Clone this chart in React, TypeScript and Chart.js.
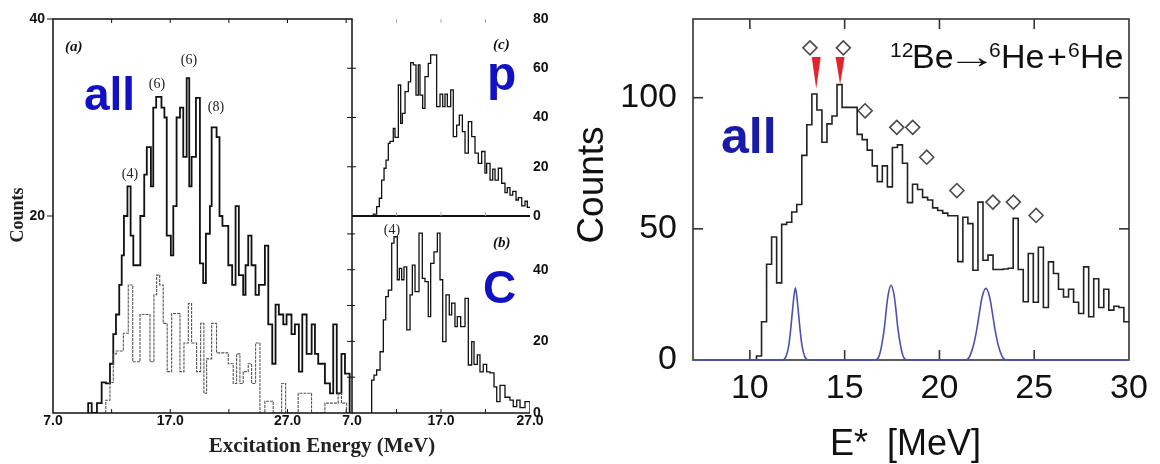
import { useEffect, useRef } from 'react';
import { Chart, registerables } from 'chart.js';
Chart.register(...registerables);

const SANS = '"Liberation Sans", Arial, sans-serif';
const SERIF = '"Liberation Serif", "Times New Roman", serif';
const BLUE = '#1212c4';

// ---------- Panel (a): "all" histogram (step edges in MeV, counts per step)
const aAllEdges = [10.0, 10.3, 10.75, 11.15, 11.5, 11.86, 12.14, 12.37, 12.65, 12.86, 13.05, 13.35, 13.62, 13.85, 14.45, 14.78, 15.0, 15.35, 15.55, 15.8, 16.25, 16.5, 16.7, 17.05, 17.26, 17.54, 17.83, 18.11, 18.4, 18.62, 18.82, 19.19, 19.53, 19.81, 20.04, 20.38, 20.53, 20.95, 21.2, 21.45, 21.95, 22.28, 22.57, 22.85, 23.22, 23.42, 23.65, 23.93, 24.27, 24.56, 25.07, 25.36, 25.7, 25.98, 26.26, 26.64, 26.92, 27.34, 27.63, 27.97, 28.26, 28.63, 29.06, 29.34, 29.62, 30.19, 30.62, 30.9, 31.2, 31.6, 31.9, 32.3];
const aAllCounts = [1, 0, 1, 3.1, 3, 5, 8, 10, 13, 16, 20, 23, 18, 15, 20, 24.2, 27, 23, 31, 32.1, 31, 30, 18, 16, 21, 30, 31, 26, 34, 23, 26, 32, 15.2, 13.2, 18.2, 21, 29, 28, 20, 19, 15, 13, 21, 14, 12, 15, 18, 15, 12, 13, 17, 9, 5, 11, 10, 9, 10, 8, 9, 4.2, 10, 6, 9, 6, 5, 3, 2, 9, 2, 6, 4];
// Panel (a): lower (dotted) histogram
const aSubEdges = [11.5, 11.86, 12.14, 12.4, 13.0, 13.42, 13.8, 14.42, 15.27, 15.61, 15.84, 16.1, 16.4, 16.74, 17.12, 17.83, 18.17, 18.54, 18.82, 19.25, 19.59, 19.87, 20.1, 20.53, 20.95, 21.95, 22.37, 22.66, 22.94, 23.22, 23.65, 23.94, 24.28, 24.65, 25.07, 25.78, 26.5, 26.84, 27.91, 29.05, 30.19, 31.32, 31.6, 32.04];
const aSubCounts = [1.3, 3.1, 6, 6.3, 8.1, 13, 5.2, 10, 5.2, 12, 14, 13, 9.1, 4.2, 10.1, 4.2, 7.1, 11.1, 7.1, 4.2, 9.1, 2, 5.5, 9.1, 6.1, 5, 3, 6, 3, 4.2, 5, 3, 7.1, 0, 1.2, 0, 3, 0, 2, 0, 1, 2, 1];
const aXTicks = [7, 17, 27];
const aYTicks = [20, 40];
const aPeakLabels = ['(4)', '(6)', '(6)', '(8)'];
const aPeakE = [13.56, 15.87, 18.59, 20.9];
const aPeakC = [24.2, 33.4, 35.8, 31.0];

// ---------- Panel (c): p target
const cEdges = [9.4, 9.77, 10.07, 10.33, 10.6, 10.82, 11.08, 11.27, 11.64, 11.83, 12.21, 12.47, 12.66, 12.96, 13.33, 13.59, 13.89, 14.19, 14.45, 14.64, 14.94, 15.2, 15.57, 15.84, 16.51, 16.89, 17.19, 17.45, 17.71, 18.09, 18.38, 18.76, 19.06, 19.4, 19.7, 20.07, 20.45, 20.82, 21.19, 21.57, 21.94, 22.13, 22.51, 22.81, 23.07, 23.44, 23.82, 24.19, 24.45, 24.75, 25.06, 25.43, 25.69, 26.07, 26.44, 26.7, 27.0];
const cCounts = [0.8, 3.8, 7.2, 14.6, 19.4, 22.7, 29.5, 30.3, 35.6, 31.9, 53.2, 37.6, 41.7, 50.5, 54.5, 62.3, 61.4, 49.1, 61.4, 49.1, 43.7, 56.6, 62, 65.4, 44.4, 49.5, 44.4, 49.5, 44.4, 51.2, 32.2, 36.9, 41, 34.3, 25.5, 38.3, 32.2, 25.5, 21.4, 26.2, 17.4, 21.4, 14.6, 19, 14.6, 19.4, 13.3, 9.5, 11.5, 8.5, 10, 6.5, 7.5, 4.1, 6, 3.5];
const cYTicks = [0, 20, 40, 60, 80];

// ---------- Panel (b): C target
const bEdges = [9.21, 9.47, 9.77, 10.15, 10.52, 10.79, 11.08, 11.46, 11.72, 12.09, 12.32, 12.58, 12.84, 13.15, 13.52, 13.78, 14.08, 14.53, 14.9, 15.2, 15.57, 15.84, 16.21, 16.59, 16.89, 17.19, 17.56, 17.93, 18.2, 18.57, 18.83, 19.21, 19.7, 20.07, 20.45, 20.71, 21.08, 21.38, 21.75, 22.13, 22.51, 22.96, 23.26, 23.63, 24.19, 24.75, 25.12, 25.51, 25.88, 26.44, 27.0];
const bCounts = [9.2, 10.6, 12, 17.1, 26, 32.5, 34.3, 47.4, 49.2, 37.2, 40.4, 37.2, 40.8, 23.2, 33, 41.3, 33.9, 50.2, 37.6, 36.7, 26.9, 41.8, 45, 50.2, 37.2, 19.9, 33, 27.4, 30.7, 24.1, 26.9, 24.1, 32, 13.4, 19.9, 13.6, 16.2, 11.5, 13.6, 11.5, 11.2, 7.3, 3.2, 7.7, 4.4, 3.6, 1.8, 3.6, 1.5, 3.2];
const bXTicks = [7, 17, 27];
const bYTicks = [0, 20, 40];

// ---------- Right panel: 12Be -> 6He + 6He
const rBinStart = 10.35;
const rBinWidth = 0.2655;
const rCounts = [1.5, 14.6, 36.5, 46.9, 29.4, 51.7, 52.5, 56.4, 59.3, 78, 89.7, 101.4, 95.3, 83, 90, 93, 105, 96.3, 96.3, 96.3, 86, 84, 80, 74, 68, 74, 66, 81, 82, 75, 60, 67, 65, 62, 61, 58, 57, 56, 55, 55, 37.5, 54.4, 52, 34.2, 60.2, 38, 40, 34.5, 34.5, 34.7, 35, 54, 34.5, 22.2, 40.6, 22, 43, 20, 37.4, 33, 27, 24, 27, 22, 17.7, 35.5, 16.5, 31, 20, 27, 19, 20.5, 20, 14.6];
const rDiamondE = [13.17, 14.93, 16.08, 17.75, 18.59, 19.33, 20.92, 22.82, 23.9, 25.1];
const rDiamondC = [119, 119, 95, 88.7, 88.7, 77.3, 64.6, 60.2, 60.2, 55.1];
const rArrowE = [13.5, 14.76];
const rArrowFrom = [115.5, 115.5];
const rArrowTo = [103.5, 105];
const rGaussE = [7, 11.7, 11.9, 12.05, 12.15, 12.25, 12.32, 12.4, 12.48, 12.55, 12.65, 12.75, 12.9, 13.1, 16.6, 16.8, 16.95, 17.1, 17.2, 17.3, 17.45, 17.6, 17.7, 17.8, 17.95, 18.1, 18.3, 21.4, 21.6, 21.8, 21.95, 22.1, 22.25, 22.45, 22.65, 22.8, 22.95, 23.1, 23.3, 23.5, 30];
const rGaussC = [0, 0, 1.2, 5.5, 11.5, 19, 24, 27.5, 24, 19, 11.5, 5.5, 1.2, 0, 0, 1.2, 5.5, 12.5, 19.5, 25, 28.5, 25, 19.5, 12.5, 5.5, 1.2, 0, 0, 1.5, 5.7, 10.9, 17.6, 23.9, 27.3, 23.9, 17.6, 10.9, 5.7, 1.5, 0, 0];
const rXTicks = [10, 15, 20, 25, 30];
const rYTicks = [0, 50, 100];
const rInnerXTicks = [10, 15, 20, 25];
const rInnerYTicks = [50, 100];

type Pt = { x: number; y: number };
function histPoints(edges: number[], counts: number[], close = true): Pt[] {
  const pts: Pt[] = [{ x: edges[0], y: 0 }];
  counts.forEach((c, i) => pts.push({ x: edges[i], y: c }));
  const last = edges[counts.length];
  pts.push({ x: last, y: counts[counts.length - 1] });
  if (close) pts.push({ x: last, y: 0 });
  return pts;
}

function seg(ctx: CanvasRenderingContext2D, x1: number, y1: number, x2: number, y2: number) {
  ctx.beginPath();
  ctx.moveTo(x1, y1);
  ctx.lineTo(x2, y2);
  ctx.stroke();
}
function txt(ctx: CanvasRenderingContext2D, s: string, x: number, y: number, font: string, color: string, align: CanvasTextAlign = 'left', base: CanvasTextBaseline = 'alphabetic') {
  ctx.font = font;
  ctx.fillStyle = color;
  ctx.textAlign = align;
  ctx.textBaseline = base;
  ctx.fillText(s, x, y);
}

// scale that keeps exactly the size we give it (no automatic label padding)
function linAxis(min: number, max: number, ticks: number[], size: { w?: number; h?: number }, extra: any) {
  return {
    type: 'linear',
    min,
    max,
    afterBuildTicks: (s: any) => { s.ticks = ticks.map((value) => ({ value })); },
    afterFit: (s: any) => {
      if (size.w !== undefined) s.width = size.w;
      if (size.h !== undefined) s.height = size.h;
      s.paddingTop = 0; s.paddingBottom = 0; s.paddingLeft = 0; s.paddingRight = 0;
    },
    grid: { display: false, drawTicks: false },
    border: { display: false },
    ...extra,
  };
}
const baseOpts = {
  animation: false,
  responsive: false,
  devicePixelRatio: 1,
  events: [],
  plugins: { legend: { display: false }, tooltip: { enabled: false } },
};
const boldTick = (size: number) => ({ family: SANS, size, weight: 'bold' });

export default function App() {
  const aRef = useRef<HTMLCanvasElement>(null);
  const cRef = useRef<HTMLCanvasElement>(null);
  const bRef = useRef<HTMLCanvasElement>(null);
  const rRef = useRef<HTMLCanvasElement>(null);

  useEffect(() => {
    const charts: Chart[] = [];

    // ---------- (a)
    const decoA = {
      id: 'decoA',
      afterDraw(chart: any) {
        const { ctx, chartArea: ca, scales } = chart;
        const xs = scales.x, ys = scales.y;
        ctx.save();
        ctx.strokeStyle = '#111';
        ctx.lineWidth = 1.5;
        ctx.strokeRect(ca.left, ca.top, ca.right - ca.left, ca.bottom - ca.top);
        ctx.lineWidth = 1;
        [12, 17, 22, 27, 32].forEach((v) => {
          const x = xs.getPixelForValue(v);
          seg(ctx, x, ca.bottom, x, ca.bottom - 4);
          seg(ctx, x, ca.top, x, ca.top + 4);
        });
        [20, 40].forEach((v) => {
          const y = ys.getPixelForValue(v);
          seg(ctx, ca.left - 6, y, ca.left, y);
        });
        txt(ctx, '(a)', 65, 51, `italic bold 15px ${SERIF}`, '#111');
        txt(ctx, 'all', 84, 110, `bold 46px ${SANS}`, BLUE);
        aPeakLabels.forEach((s, i) => {
          txt(ctx, s, xs.getPixelForValue(aPeakE[i]), ys.getPixelForValue(aPeakC[i]), `14px ${SERIF}`, '#222', 'center', 'middle');
        });
        txt(ctx, 'Excitation Energy (MeV)', 322, 452, `bold 21px ${SERIF}`, '#222', 'center');
        ctx.translate(18, 215);
        ctx.rotate(-Math.PI / 2);
        txt(ctx, 'Counts', 0, 0, `bold 18px ${SERIF}`, '#222', 'center', 'middle');
        ctx.restore();
      },
    };
    charts.push(new Chart(aRef.current!, {
      type: 'line',
      data: {
        datasets: [
          { data: histPoints(aSubEdges, aSubCounts), borderColor: '#555', borderWidth: 1.1, borderDash: [3, 1], stepped: true, pointRadius: 0 },
          { data: histPoints(aAllEdges, aAllCounts), borderColor: '#111', borderWidth: 1.8, stepped: true, pointRadius: 0 },
        ],
      },
      options: {
        ...baseOpts,
        layout: { autoPadding: false, padding: { left: 13, right: 808, top: 19, bottom: 21 } },
        scales: {
          x: linAxis(7, 32.5, aXTicks, { h: 30 }, {
            ticks: { autoSkip: false, maxRotation: 0, padding: 0, color: '#111', font: boldTick(14), callback: (v: any) => Number(v).toFixed(1) },
          }),
          y: linAxis(0, 40, aYTicks, { w: 40 }, {
            ticks: { autoSkip: false, padding: 8, color: '#111', font: boldTick(14), callback: (v: any) => String(v) },
          }),
        },
      } as any,
      plugins: [decoA],
    } as any));

    // ---------- (c)
    const decoC = {
      id: 'decoC',
      afterDraw(chart: any) {
        const { ctx, chartArea: ca, scales } = chart;
        const xs = scales.x, ys = scales.y;
        ctx.save();
        ctx.strokeStyle = '#111';
        ctx.lineWidth = 2;
        seg(ctx, ca.left, ca.bottom, ca.right, ca.bottom);
        ctx.lineWidth = 1;
        [20, 40, 60].forEach((v) => {
          const y = ys.getPixelForValue(v);
          seg(ctx, ca.left - 5, y, ca.left + 4, y);
        });
        ctx.strokeStyle = '#aaa';
        [12, 17, 22].forEach((v) => {
          const x = xs.getPixelForValue(v);
          seg(ctx, x, ca.top, x, ca.top + 4);
          seg(ctx, x, ca.bottom, x, ca.bottom - 4);
        });
        txt(ctx, '(c)', 493, 49, `italic bold 15px ${SERIF}`, '#111');
        txt(ctx, 'p', 487, 90, `bold 48px ${SANS}`, BLUE);
        ctx.restore();
      },
    };
    charts.push(new Chart(cRef.current!, {
      type: 'line',
      data: { datasets: [{ data: histPoints(cEdges, cCounts, false), borderColor: '#111', borderWidth: 1.3, stepped: true, pointRadius: 0 }] },
      options: {
        ...baseOpts,
        layout: { autoPadding: false, padding: { left: 352, right: 590, top: 19, bottom: 248 } },
        scales: {
          x: linAxis(7, 27, [], {}, { display: false }),
          y: linAxis(0, 80, cYTicks, { w: 40 }, {
            position: 'right',
            ticks: { autoSkip: false, padding: 3, color: '#111', font: boldTick(14), callback: (v: any) => String(v) },
          }),
        },
      } as any,
      plugins: [decoC],
    } as any));

    // ---------- (b)
    const decoB = {
      id: 'decoB',
      afterDraw(chart: any) {
        const { ctx, chartArea: ca, scales } = chart;
        const xs = scales.x, ys = scales.y;
        ctx.save();
        ctx.strokeStyle = '#111';
        ctx.lineWidth = 1.5;
        seg(ctx, ca.left, ca.bottom, ca.right, ca.bottom);
        ctx.lineWidth = 1;
        [10, 20, 30, 40, 50].forEach((v) => {
          const y = ys.getPixelForValue(v);
          seg(ctx, ca.left - 5, y, ca.left + 3, y);
        });
        [12, 17, 22].forEach((v) => {
          const x = xs.getPixelForValue(v);
          seg(ctx, x, ca.bottom, x, ca.bottom - 4);
        });
        txt(ctx, '(b)', 493, 247, `italic bold 15px ${SERIF}`, '#111');
        txt(ctx, 'C', 483, 303, `bold 46px ${SANS}`, BLUE);
        txt(ctx, '(4)', xs.getPixelForValue(11.49), ys.getPixelForValue(51.1), `14px ${SERIF}`, '#222', 'center', 'middle');
        ctx.restore();
      },
    };
    charts.push(new Chart(bRef.current!, {
      type: 'line',
      data: { datasets: [{ data: histPoints(bEdges, bCounts), borderColor: '#111', borderWidth: 1.3, stepped: true, pointRadius: 0 }] },
      options: {
        ...baseOpts,
        layout: { autoPadding: false, padding: { left: 352, right: 590, top: 216, bottom: 21 } },
        scales: {
          x: linAxis(7, 27, bXTicks, { h: 30 }, {
            ticks: { autoSkip: false, maxRotation: 0, padding: 0, color: '#111', font: boldTick(14), callback: (v: any) => Number(v).toFixed(1) },
          }),
          y: linAxis(0, 55, bYTicks, { w: 40 }, {
            position: 'right',
            ticks: { autoSkip: false, padding: 3, color: '#111', font: boldTick(14), callback: (v: any) => String(v) },
          }),
        },
      } as any,
      plugins: [decoB],
    } as any));

    // ---------- right panel
    const rEdges = rCounts.map((_, i) => rBinStart + i * rBinWidth).concat([rBinStart + rCounts.length * rBinWidth]);
    const frameR = {
      id: 'frameR',
      beforeDatasetsDraw(chart: any) {
        const { ctx, chartArea: ca, scales } = chart;
        const xs = scales.x, ys = scales.y;
        ctx.save();
        ctx.strokeStyle = '#333';
        ctx.lineWidth = 1.6;
        ctx.strokeRect(ca.left, ca.top, ca.right - ca.left, ca.bottom - ca.top);
        rInnerXTicks.forEach((v) => {
          const x = xs.getPixelForValue(v);
          seg(ctx, x, ca.bottom, x, ca.bottom - 10);
          seg(ctx, x, ca.top, x, ca.top + 10);
        });
        rInnerYTicks.forEach((v) => {
          const y = ys.getPixelForValue(v);
          seg(ctx, ca.left, y, ca.left + 10, y);
          seg(ctx, ca.right, y, ca.right - 10, y);
        });
        ctx.restore();
      },
      afterDraw(chart: any) {
        const { ctx, scales } = chart;
        const xs = scales.x, ys = scales.y;
        ctx.save();
        // red arrows
        rArrowE.forEach((e, i) => {
          const x = xs.getPixelForValue(e);
          const y1 = ys.getPixelForValue(rArrowFrom[i]);
          const y2 = ys.getPixelForValue(rArrowTo[i]);
          ctx.fillStyle = '#e3242b';
          ctx.beginPath();
          ctx.moveTo(x - 4.5, y1);
          ctx.lineTo(x + 4.5, y1);
          ctx.lineTo(x, y2);
          ctx.closePath();
          ctx.fill();
        });
        // reaction label
        const base = 68;
        const big = `34px ${SANS}`;
        const sup = `21px ${SANS}`;
        txt(ctx, '12', 890, 57, sup, '#111');
        txt(ctx, 'Be', 912, base, big, '#111');
        // arrow glyph, stretched to the visible length seen in the figure
        ctx.save();
        ctx.font = big;
        const m = ctx.measureText('\u2192');
        const vis = (m.actualBoundingBoxLeft || 0) + (m.actualBoundingBoxRight || m.width);
        const midOff = ((m.actualBoundingBoxAscent || 12) - (m.actualBoundingBoxDescent || 0)) / 2;
        const sx = 32 / (vis || 30);
        ctx.translate(956 + (m.actualBoundingBoxLeft || 0) * sx, 62 + midOff);
        ctx.scale(sx, 1);
        txt(ctx, '\u2192', 0, 0, big, '#111');
        ctx.restore();
        txt(ctx, '6', 989, 57, sup, '#111');
        txt(ctx, 'He', 1001, base, big, '#111');
        txt(ctx, '+', 1047, base, big, '#111');
        txt(ctx, '6', 1068, 57, sup, '#111');
        txt(ctx, 'He', 1080, base, big, '#111');
        txt(ctx, 'all', 721, 153, `bold 50px ${SANS}`, '#1a1aa8');
        txt(ctx, 'E*', 830, 455, `36px ${SANS}`, '#111');
        txt(ctx, '[MeV]', 887, 455, `36px ${SANS}`, '#111');
        ctx.translate(593, 185);
        ctx.rotate(-Math.PI / 2);
        txt(ctx, 'Counts', 0, 0, `37px ${SANS}`, '#111', 'center', 'middle');
        ctx.restore();
      },
    };
    charts.push(new Chart(rRef.current!, {
      type: 'line',
      data: {
        datasets: [
          {
            data: rGaussE.map((x, i) => ({ x, y: rGaussC[i] })),
            borderColor: '#4a52b0', borderWidth: 1.6, pointRadius: 0, cubicInterpolationMode: 'monotone', clip: false,
          },
          { data: histPoints(rEdges, rCounts, false), borderColor: '#222', borderWidth: 1.6, stepped: true, pointRadius: 0 },
          {
            data: rDiamondE.map((x, i) => ({ x, y: rDiamondC[i] })),
            showLine: false, pointStyle: 'rectRot', pointRadius: 7, pointBorderWidth: 1.6,
            pointBorderColor: '#4a4a4a', pointBackgroundColor: '#fff', borderColor: '#4a4a4a', backgroundColor: '#fff', clip: false,
          },
        ],
      },
      options: {
        ...baseOpts,
        layout: { autoPadding: false, padding: { left: 593, right: 31, top: 19, bottom: 34 } },
        scales: {
          x: linAxis(7, 30, rXTicks, { h: 70 }, {
            ticks: { autoSkip: false, maxRotation: 0, padding: 8, color: '#111', font: { family: SANS, size: 34 }, callback: (v: any) => String(v) },
          }),
          y: linAxis(0, 130, rYTicks, { w: 100 }, {
            ticks: { autoSkip: false, padding: 16, color: '#111', font: { family: SANS, size: 34 }, callback: (v: any) => String(v) },
          }),
        },
      } as any,
      plugins: [frameR],
    } as any));

    return () => charts.forEach((c) => c.destroy());
  }, []);

  const cs = { position: 'absolute' as const, left: 0, top: 0, width: 1160, height: 464 };
  return (
    <div style={{ position: 'fixed', left: 0, top: 0, width: 1160, height: 464, background: '#fff' }}>
      <canvas ref={aRef} width={1160} height={464} style={cs} />
      <canvas ref={cRef} width={1160} height={464} style={cs} />
      <canvas ref={bRef} width={1160} height={464} style={cs} />
      <canvas ref={rRef} width={1160} height={464} style={cs} />
    </div>
  );
}
